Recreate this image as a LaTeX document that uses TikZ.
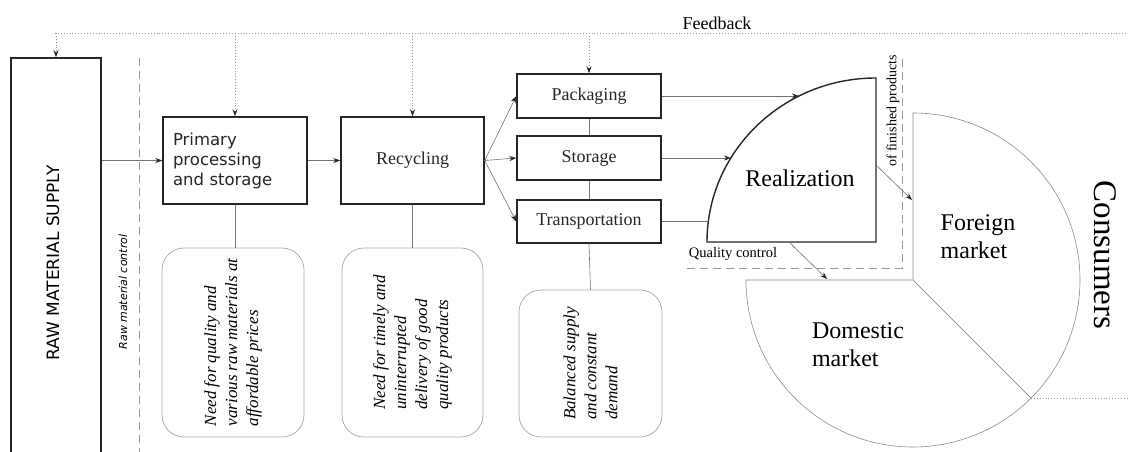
\documentclass[tikz,border=0pt]{standalone}
\usepackage{fontspec}
\setmainfont{Liberation Serif}
\setsansfont{DejaVu Sans}
\usepackage{xcolor}
\usetikzlibrary{arrows.meta}

\begin{document}
\begin{tikzpicture}[x=1pt, y=-1pt,
    stagebox/.style={draw=black!85, line width=1.4pt, fill=white, text=black!85},
    needbox/.style={draw=black!35, line width=0.7pt, rounded corners=22pt},
    link/.style={draw=black!55, line width=0.6pt},
    arr/.style={link, -{Stealth[length=7pt, width=5pt, color=black!85]}},
    fb/.style={draw=black!40, line width=0.9pt, dotted},
    fbarr/.style={fb, -{Stealth[length=7pt, width=5pt, color=black!85]}},
    ctrl/.style={draw=black!40, line width=0.7pt, dash pattern=on 8pt off 5pt},
    sector/.style={draw=black!45, line width=0.6pt}]
    \useasboundingbox (0,0) rectangle (1128,452);
    \clip (0,0) rectangle (1128,452);
    % Raw material supply
    \node[stagebox, minimum width=90pt, minimum height=412pt] (raw) at (56,264) {};
    \node[rotate=90, font=\sffamily\fontsize{17}{20}\selectfont] (rawtext) at (53,263) {RAW MATERIAL SUPPLY};
    % Raw material control
    \draw[ctrl] (139,58) -- (139,452);
    \node[rotate=90, font=\sffamily\itshape\fontsize{11}{14}\selectfont] (rawctrl) at (123,292) {Raw material control};
    % Stages
    \node[stagebox, minimum width=144pt, minimum height=87pt, text width=124pt, align=left,
          font=\sffamily\fontsize{16.5}{20}\selectfont] (prim) at (235,160.5) {Primary\\processing\\and storage};
    \node[stagebox, minimum width=143pt, minimum height=87pt, font=\fontsize{18}{22}\selectfont] (rec) at (412.5,160.5) {Recycling};
    \node[stagebox, minimum width=144pt, minimum height=44pt, font=\fontsize{18}{22}\selectfont] (pack) at (589,96) {Packaging};
    \node[stagebox, minimum width=144pt, minimum height=44pt, font=\fontsize{18}{22}\selectfont] (stor) at (589,158) {Storage};
    \node[stagebox, minimum width=144pt, minimum height=43pt, font=\fontsize{18}{22}\selectfont] (trans) at (589,221.5) {Transportation};
    \draw[arr] (raw.east |- prim.west) -- (prim.west);
    \draw[arr] (prim.east) -- (rec.west);
    \draw[arr] (rec.east) -- (pack.west);
    \draw[arr] (rec.east) -- (stor.west);
    \draw[arr] (rec.east) -- (trans.west);
    \draw[link] (pack.south) -- (stor.north);
    \draw[link] (stor.south) -- (trans.north);
    % Needs
    \node[needbox, minimum width=142pt, minimum height=189pt] (need1) at (233,342.5) {};
    \node[rotate=90, align=left, font=\itshape\fontsize{17}{21}\selectfont] (need1text) at (need1) {Need for quality and\\various raw materials at\\affordable prices};
    \node[needbox, minimum width=141pt, minimum height=189pt] (need2) at (412.5,342.5) {};
    \node[rotate=90, align=left, font=\itshape\fontsize{17}{21}\selectfont] (need2text) at (need2) {Need for timely and\\uninterrupted\\delivery of good\\quality products};
    \node[needbox, minimum width=143pt, minimum height=147pt] (need3) at (590.5,363.5) {};
    \node[rotate=90, align=left, font=\itshape\fontsize{17}{21}\selectfont] (need3text) at (need3) {Balanced supply\\and constant\\demand};
    \draw[link] (prim.south) -- (prim.south |- need1.north);
    \draw[link] (rec.south) -- (rec.south |- need2.north);
    \draw[link] (trans.south) -- (need3.north);
    % Realization
    \coordinate (rc) at (876,242);
    \draw[line width=1.4pt, draw=black!85] (707,242) arc[start angle=180, end angle=90, x radius=169pt, y radius=164pt] -- (rc) -- cycle;
    \node[font=\fontsize{24}{28}\selectfont] (real) at (800,178) {Realization};
    \coordinate (rpack) at (799,96);
    \coordinate (rstor) at (731,158);
    \coordinate (rtrans) at (708,221.5);
    \draw[arr] (pack.east) -- (rpack);
    \draw[arr] (stor.east) -- (rstor);
    \draw[link] (trans.east) -- (rtrans);
    % Quality control of finished products
    \draw[ctrl] (687,268) -- (902,268) -- (902,58);
    \node[font=\fontsize{14.5}{17}\selectfont] (qc) at (733,254) {Quality control};
    \node[rotate=90, font=\fontsize{14}{17}\selectfont] (fp) at (893,111) {of finished products};
    % Markets
    \coordinate (pc) at (913,280);
    \draw[sector] (pc) -- ++(0,-167) arc[start angle=90, end angle=-45, radius=167pt] -- cycle;
    \draw[sector] (pc) -- ++(-167,0) arc[start angle=180, end angle=315, radius=167pt] -- cycle;
    \path (pc) ++(-45:167pt) coordinate (pcut);
    \node[align=left, font=\fontsize{24}{28}\selectfont] (foreign) at (978,237) {Foreign\\market};
    \node[align=left, font=\fontsize{24}{28}\selectfont] (domestic) at (858,345) {Domestic\\market};
    \coordinate (realR) at (876,165);
    \coordinate (forL) at (912,200);
    \coordinate (realB) at (789,242);
    \coordinate (domT) at (827,279);
    \draw[arr] (realR) -- (forL);
    \draw[arr] (realB) -- (domT);
    \node[rotate=-90, font=\fontsize{33}{36}\selectfont] (cons) at (1105,255) {Consumers};
    % Feedback
    \coordinate (fbl) at (55,33);
    \draw[fb] (fbl) -- (1128,33);
    \draw[fb] (pcut) -- ++(120,0);
    \node[font=\fontsize{18}{22}\selectfont] (fbtext) at (717,23) {Feedback};
    \draw[fbarr] (raw.north |- fbl) -- (raw.north);
    \draw[fbarr] (prim.north |- fbl) -- (prim.north);
    \draw[fbarr] (rec.north |- fbl) -- (rec.north);
    \draw[fbarr] (pack.north |- fbl) -- (pack.north);
\end{tikzpicture}
\end{document}
